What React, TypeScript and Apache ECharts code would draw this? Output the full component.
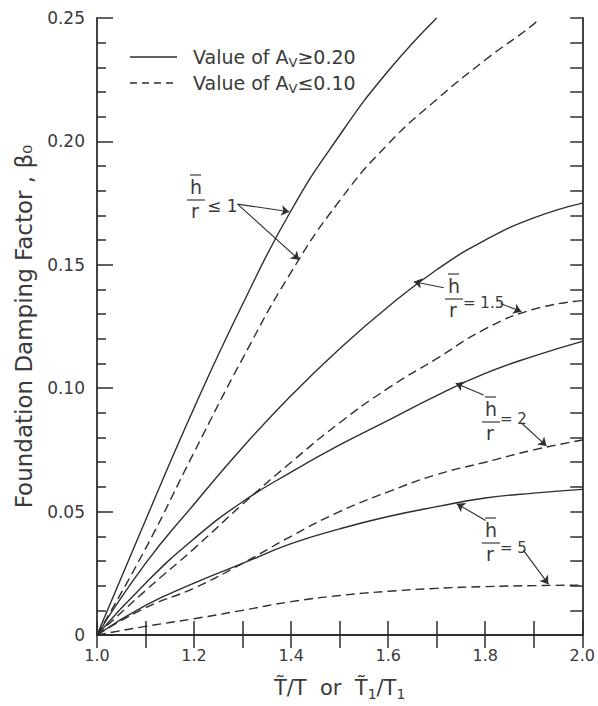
import React, { useEffect, useRef } from "react";
import * as echarts from "echarts";

// ---------- data ----------
const X_FULL = [1.0, 1.1, 1.2, 1.3, 1.4, 1.5, 1.6, 1.7, 1.8, 1.9, 2.0];
const X_S1 = [1.0, 1.1, 1.2, 1.3, 1.4, 1.5, 1.6, 1.7];
const X_D1 = [1.0, 1.1, 1.2, 1.3, 1.4, 1.5, 1.6, 1.7, 1.8, 1.9, 1.91];

// h/r <= 1
const S1_SOLID = [0, 0.0465, 0.092, 0.134, 0.172, 0.2025, 0.2285, 0.25];
const D1_DASHED = [0, 0.035, 0.074, 0.112, 0.147, 0.176, 0.199, 0.217, 0.233, 0.2475, 0.25];
// h/r = 1.5
const S15_SOLID = [0, 0.029, 0.053, 0.076, 0.097, 0.116, 0.133, 0.148, 0.16, 0.169, 0.175];
const D15_DASHED = [0, 0.018, 0.035, 0.053, 0.07, 0.086, 0.1, 0.112, 0.124, 0.132, 0.1355];
// h/r = 2
const S2_SOLID = [0, 0.021, 0.039, 0.054, 0.066, 0.077, 0.087, 0.097, 0.106, 0.113, 0.119];
const D2_DASHED = [0, 0.011, 0.019, 0.029, 0.04, 0.05, 0.058, 0.065, 0.07, 0.075, 0.079];
// h/r = 5
const S5_SOLID = [0, 0.012, 0.021, 0.029, 0.037, 0.043, 0.048, 0.052, 0.0555, 0.0575, 0.059];
const D5_DASHED = [0, 0.0035, 0.0066, 0.01, 0.0135, 0.016, 0.0177, 0.0189, 0.0196, 0.02, 0.0202];

const X_LABELS = ["1.0", "1.2", "1.4", "1.6", "1.8", "2.0"];
const Y_LABELS = ["0", "0.05", "0.10", "0.15", "0.20", "0.25"];

// annotation arrows (data coordinates): [from, to]
const ARROWS: number[][][] = [
  [[1.2895, 0.1746], [1.3963, 0.1715]],
  [[1.2895, 0.1746], [1.4168, 0.1520]],
  [[1.7146, 0.1407], [1.653, 0.1431]],
  [[1.8316, 0.1343], [1.8747, 0.131]],
  [[1.7967, 0.0972], [1.7392, 0.102]],
  [[1.8747, 0.0859], [1.9261, 0.0766]],
  [[1.8008, 0.0464], [1.7413, 0.0532]],
  [[1.8789, 0.0343], [1.9302, 0.0206]],
];

const FONT = "DejaVu Sans";
const INK = "#2e2e2e";
const TEXT = "#3a3a3a";

const pairs = (xs: number[], ys: number[]) => xs.map((x, i) => [x, ys[i]]);

const SERIES_DEFS = [
  { name: "h/r≤1 (Av≥0.20)", xs: X_S1, ys: S1_SOLID, dashed: false },
  { name: "h/r≤1 (Av≤0.10)", xs: X_D1, ys: D1_DASHED, dashed: true },
  { name: "h/r=1.5 (Av≥0.20)", xs: X_FULL, ys: S15_SOLID, dashed: false },
  { name: "h/r=1.5 (Av≤0.10)", xs: X_FULL, ys: D15_DASHED, dashed: true },
  { name: "h/r=2 (Av≥0.20)", xs: X_FULL, ys: S2_SOLID, dashed: false },
  { name: "h/r=2 (Av≤0.10)", xs: X_FULL, ys: D2_DASHED, dashed: true },
  { name: "h/r=5 (Av≥0.20)", xs: X_FULL, ys: S5_SOLID, dashed: false },
  { name: "h/r=5 (Av≤0.10)", xs: X_FULL, ys: D5_DASHED, dashed: true },
];

function fraction(cx: number, lineY: number, suffix: string, suffixX: number, suffixY: number, suffixSize: number) {
  return [
    {
      type: "text",
      x: cx,
      y: lineY - 13,
      style: { text: "h", fontSize: 19, fontFamily: FONT, fill: TEXT, align: "center", verticalAlign: "middle" },
    },
    { type: "line", shape: { x1: cx - 6, y1: lineY - 25, x2: cx + 5, y2: lineY - 25 }, style: { stroke: TEXT, lineWidth: 1.2 } },
    { type: "line", shape: { x1: cx - 9, y1: lineY, x2: cx + 9, y2: lineY }, style: { stroke: TEXT, lineWidth: 1.2 } },
    {
      type: "text",
      x: cx - 1,
      y: lineY + 11,
      style: { text: "r", fontSize: 19, fontFamily: FONT, fill: TEXT, align: "center", verticalAlign: "middle" },
    },
    {
      type: "text",
      x: suffixX,
      y: suffixY,
      style: { text: suffix, fontSize: suffixSize, fontFamily: FONT, fill: TEXT, align: "left", verticalAlign: "middle" },
    },
  ];
}

export default function App() {
  const ref = useRef<HTMLDivElement>(null);

  useEffect(() => {
    if (!ref.current) return;
    const chart = echarts.init(ref.current, undefined, { renderer: "svg" });

    const series: any[] = SERIES_DEFS.map((d, i) => ({
      name: d.name,
      type: "line",
      data: pairs(d.xs, d.ys),
      smooth: 0.5,
      showSymbol: false,
      symbol: "none",
      silent: true,
      clip: true,
      lineStyle: { color: INK, width: 1.4, type: d.dashed ? [9, 5] : "solid" },
      z: 3,
      ...(i === 0
        ? {
            markLine: {
              silent: true,
              symbol: ["none", "arrow"],
              symbolSize: 8,
              label: { show: false },
              emphasis: { disabled: true },
              lineStyle: { color: INK, width: 1.1, type: "solid" },
              data: ARROWS.map(([a, b]) => [{ coord: a }, { coord: b }]),
            },
          }
        : {}),
    }));

    const legendRich = {
      a: { fontSize: 19, fontFamily: FONT, fill: TEXT, lineHeight: 24, verticalAlign: "middle" },
      s: { fontSize: 13, fontFamily: FONT, fill: TEXT, lineHeight: 12, verticalAlign: "bottom", padding: [6, 0, 0, 0] },
    };

    const graphic: any[] = [
      // legend
      { type: "line", shape: { x1: 130, y1: 57, x2: 177, y2: 57 }, style: { stroke: INK, lineWidth: 1.4 } },
      {
        type: "text",
        x: 193,
        y: 57,
        style: { text: "{a|Value of A}{s|V}{a|≥0.20}", verticalAlign: "middle", rich: legendRich },
      },
      { type: "line", shape: { x1: 130, y1: 83, x2: 177, y2: 83 }, style: { stroke: INK, lineWidth: 1.4, lineDash: [7, 5] } },
      {
        type: "text",
        x: 193,
        y: 83,
        style: { text: "{a|Value of A}{s|V}{a|≤0.10}", verticalAlign: "middle", rich: legendRich },
      },
      ...fraction(196, 200, "≤ 1", 207, 206, 17),
      ...fraction(454, 299, "= 1.5", 463, 303, 15),
      ...fraction(491, 422, "= 2", 500, 419, 15),
      ...fraction(491, 543, "= 5", 500, 548, 15),
    ];

    const option: any = {
      animation: false,
      backgroundColor: "#ffffff",
      textStyle: { fontFamily: FONT },
      grid: { left: 97, right: 15, top: 18, bottom: 68, containLabel: false },
      xAxis: [
        {
          type: "value",
          position: "bottom",
          min: 1.0,
          max: 2.0,
          interval: 0.2,
          name: "{a|T̃/T  or  T̃}{s|1}{a|/T}{s|1}",
          nameLocation: "middle",
          nameGap: 40,
          nameTextStyle: {
            rich: {
              a: { fontSize: 21, fontFamily: FONT, color: TEXT, lineHeight: 26, verticalAlign: "middle" },
              s: { fontSize: 14, fontFamily: FONT, color: TEXT, lineHeight: 12, verticalAlign: "bottom" },
            },
          },
          axisLine: { show: true, lineStyle: { color: INK, width: 1.8 } },
          axisTick: { show: true, inside: true, length: 14, lineStyle: { color: INK, width: 1.5 } },
          minorTick: { show: true, splitNumber: 2, length: 14, lineStyle: { color: INK, width: 1.5 } },
          splitLine: { show: false },
          axisLabel: {
            show: true,
            margin: 12,
            fontSize: 16,
            fontFamily: FONT,
            color: TEXT,
            formatter: (v: number) => X_LABELS[Math.round((v - 1) / 0.2)] ?? "",
          },
        },
        {
          type: "value",
          position: "top",
          min: 1.0,
          max: 2.0,
          interval: 0.1,
          axisLine: { show: true, lineStyle: { color: INK, width: 1.8 } },
          axisTick: { show: true, inside: true, length: 13, lineStyle: { color: INK, width: 1.5 } },
          splitLine: { show: false },
          axisLabel: { show: false },
        },
      ],
      yAxis: [
        {
          type: "value",
          position: "left",
          min: 0,
          max: 0.25,
          interval: 0.05,
          name: "Foundation Damping Factor , β₀",
          nameLocation: "middle",
          nameGap: 62,
          nameTextStyle: { fontSize: 23, fontFamily: FONT, color: TEXT },
          axisLine: { show: true, lineStyle: { color: INK, width: 1.8 } },
          axisTick: { show: true, inside: true, length: 16, lineStyle: { color: INK, width: 1.5 } },
          minorTick: { show: true, splitNumber: 5, length: 9, lineStyle: { color: INK, width: 1.5 } },
          splitLine: { show: false },
          axisLabel: {
            show: true,
            margin: 12,
            fontSize: 17,
            fontFamily: FONT,
            color: TEXT,
            formatter: (v: number) => Y_LABELS[Math.round(v / 0.05)] ?? "",
          },
        },
        {
          type: "value",
          position: "right",
          min: 0,
          max: 0.25,
          interval: 0.01,
          axisLine: { show: true, lineStyle: { color: INK, width: 1.8 } },
          axisTick: { show: true, inside: true, length: 12, lineStyle: { color: INK, width: 1.5 } },
          splitLine: { show: false },
          axisLabel: { show: false },
        },
      ],
      series,
      graphic,
    };

    chart.setOption(option);
    return () => chart.dispose();
  }, []);

  return (
    <div
      ref={ref}
      style={{ position: "fixed", left: 0, top: 0, width: 598, height: 706, background: "#fff" }}
    />
  );
}
